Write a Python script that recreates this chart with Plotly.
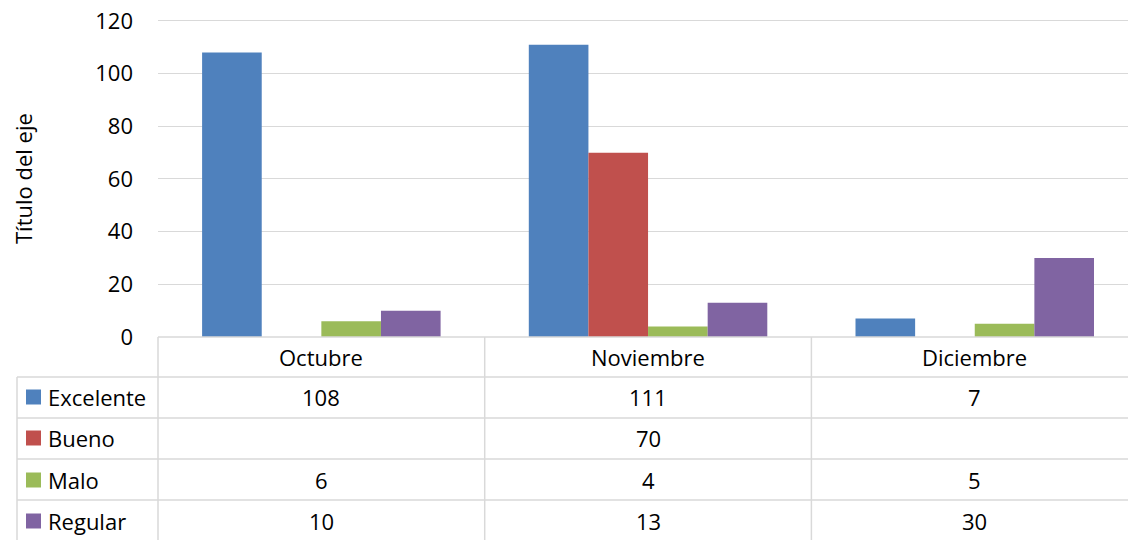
import plotly.graph_objects as go

months = ["Octubre", "Noviembre", "Diciembre"]
series_names = ["Excelente", "Bueno", "Malo", "Regular"]
excelente = [108, 111, 7]
bueno = [None, 70, None]
malo = [6, 4, 5]
regular = [10, 13, 30]
series_values = [excelente, bueno, malo, regular]
colors = ["#4F81BD", "#C0504D", "#9BBB59", "#8064A2"]
y_ticks = [0, 20, 40, 60, 80, 100, 120]

W, H = 1128, 540
FONT = "Open Sans"
FS = 22
GRID = "#D9D9D9"

def px(x):
    return x / W

def py(y):
    return 1 - y / H

plot_left = 158
col_w = 326.7
y0_px, y120_px = 337, 21
y_max = 121
y_top_px = y0_px - (y0_px - y120_px) * y_max / 120

fig = go.Figure()
for name, vals, c in zip(series_names, series_values, colors):
    fig.add_trace(go.Bar(x=months, y=vals, name=name, marker=dict(color=c, line=dict(width=0)),
                         showlegend=False, hoverinfo="skip"))

x_hi = 2.5 - (plot_left + 3 * col_w - W) / col_w

fig.update_layout(
    width=W, height=H,
    margin=dict(l=0, r=0, t=0, b=0),
    plot_bgcolor="white", paper_bgcolor="white",
    barmode="group", bargap=0.27, bargroupgap=0,
    font=dict(family=FONT, size=FS, color="#000000"),
    xaxis=dict(domain=[px(plot_left), 1], range=[-0.5, x_hi], showticklabels=False,
               showgrid=False, zeroline=False, showline=False, automargin=False),
    yaxis=dict(domain=[py(y0_px), py(y_top_px)], range=[0, y_max], tickvals=y_ticks,
               showgrid=True, gridcolor=GRID, gridwidth=1.3, zeroline=False,
               showline=False, ticks="", ticklabelstandoff=24, automargin=False,
               ticklabeloverflow="allow",
               tickfont=dict(family=FONT, size=FS)),
)

shapes = []
line = dict(color=GRID, width=1.5)
shapes.append(dict(type="line", xref="paper", yref="paper", x0=px(plot_left), x1=1,
                   y0=py(y0_px), y1=py(y0_px), line=line))
row_edges = [377, 418, 459, 500]
for ry in row_edges:
    shapes.append(dict(type="line", xref="paper", yref="paper", x0=px(17), x1=1,
                       y0=py(ry), y1=py(ry), line=line))
for i in range(3):
    xv = plot_left + i * col_w
    shapes.append(dict(type="line", xref="paper", yref="paper", x0=px(xv), x1=px(xv),
                       y0=py(y0_px), y1=0, line=line))
shapes.append(dict(type="line", xref="paper", yref="paper", x0=px(17), x1=px(17),
                   y0=py(377), y1=0, line=line))

annotations = []
header_y = 357
row_centers = [397, 438, 480, 521]
for i, m in enumerate(months):
    annotations.append(dict(x=i, xref="x", y=py(header_y), yref="paper", text=m,
                            showarrow=False, xanchor="center", yanchor="middle",
                            font=dict(family=FONT, size=FS)))
for r, (name, vals, c) in enumerate(zip(series_names, series_values, colors)):
    yc = row_centers[r]
    shapes.append(dict(type="rect", xref="paper", yref="paper", x0=px(26), x1=px(41),
                       y0=py(yc + 7.5), y1=py(yc - 7.5), fillcolor=c, line=dict(width=0)))
    annotations.append(dict(x=px(46), xref="paper", y=py(yc), yref="paper", text=name,
                            showarrow=False, xanchor="left", yanchor="middle",
                            font=dict(family=FONT, size=FS)))
    for i, v in enumerate(vals):
        if v is None:
            continue
        annotations.append(dict(x=i, xref="x", y=py(yc), yref="paper", text=str(v),
                                showarrow=False, xanchor="center", yanchor="middle",
                                font=dict(family=FONT, size=FS)))

annotations.append(dict(x=px(23), xref="paper", y=py((y0_px + y120_px) / 2), yref="paper",
                        text="Título del eje", textangle=-90, showarrow=False,
                        xanchor="center", yanchor="middle", font=dict(family=FONT, size=FS)))

fig.update_layout(shapes=shapes, annotations=annotations)
fig.write_html("out.html", config={"displayModeBar": False},
               post_script="document.body.style.margin='0px';document.body.style.overflow='hidden';")
